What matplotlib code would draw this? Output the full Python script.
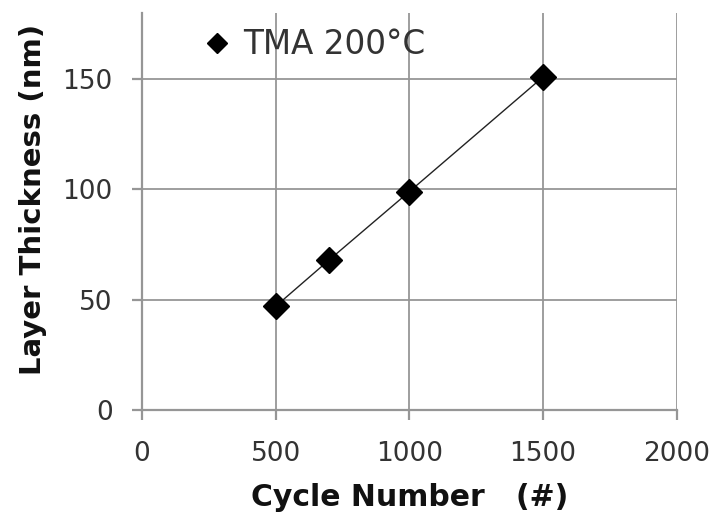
import matplotlib
matplotlib.use("Agg")
import matplotlib.pyplot as plt

cycles = [500, 700, 1000, 1500]
thickness = [47, 68, 99, 151]
series_label = "TMA 200°C"
x_ticks = [0, 500, 1000, 1500, 2000]
y_ticks = [0, 50, 100, 150]

plt.rcParams['font.family'] = ['DejaVu Sans']

fig = plt.figure(figsize=(7.2, 5.19), dpi=100)
ax = fig.add_axes([0.197, 0.210, 0.743, 0.765])

grid_color = "#969696"
ax.plot(cycles, thickness, color="#222222", lw=1.0, marker="D", ms=13.5,
        mfc="black", mec="black", label=series_label, zorder=3)

ax.set_xlim(0, 2000)
ax.set_ylim(0, 180)
ax.set_xticks(x_ticks)
ax.set_yticks(y_ticks)

for s in ["top", "right"]:
    ax.spines[s].set_visible(False)
for s in ["left", "bottom"]:
    ax.spines[s].set_color(grid_color)
    ax.spines[s].set_linewidth(1.6)

ax.grid(True, color=grid_color, lw=1.3)
ax.set_axisbelow(True)
ax.tick_params(axis="both", direction="out", color=grid_color, width=1.6,
               labelsize=19, labelcolor="#333333")
ax.tick_params(axis="x", length=7, pad=15)
ax.tick_params(axis="y", length=7, pad=14)

ax.set_xlabel("Cycle Number   (#)", fontsize=21.5, fontweight="bold",
              color="#111111", labelpad=12)
ax.set_ylabel("Layer Thickness (nm)", fontsize=21, fontweight="bold",
              color="#111111")
ax.yaxis.set_label_coords(-0.178, 0.53)

leg = ax.legend(loc="upper left", bbox_to_anchor=(0.07, 1.035), frameon=False,
                fontsize=23.5, handlelength=0.5, handletextpad=0.55,
                markerscale=0.78)
for t in leg.get_texts():
    t.set_color("#333333")

fig.savefig("out.png", dpi=100)
